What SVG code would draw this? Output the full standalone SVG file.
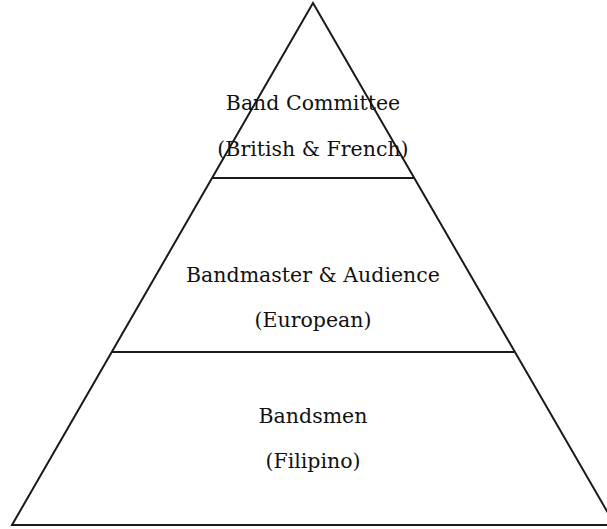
<svg xmlns="http://www.w3.org/2000/svg" width="607" height="529" viewBox="0 0 607 529">
<style>
.edge{fill:none;stroke:#1a1a1a;stroke-width:2}
.lbl{font-family:"DejaVu Serif","Liberation Serif",serif;font-size:20.5px;fill:#111;text-anchor:middle}
</style>
<rect width="607" height="529" fill="#fff"/>
<g id="connectors">
<polygon class="edge" points="313,3 12,525 615,525"/>
<line class="edge" x1="212" y1="178" x2="414" y2="178"/>
<line class="edge" x1="112" y1="352" x2="514" y2="352"/>
</g>
<g id="top">
<text class="lbl" x="313" y="110">Band Committee</text>
<text class="lbl" x="313" y="156">(British &amp; French)</text>
</g>
<g id="middle">
<text class="lbl" x="313" y="282">Bandmaster &amp; Audience</text>
<text class="lbl" x="313" y="327">(European)</text>
</g>
<g id="bottom">
<text class="lbl" x="313" y="423">Bandsmen</text>
<text class="lbl" x="313" y="468">(Filipino)</text>
</g>
</svg>
